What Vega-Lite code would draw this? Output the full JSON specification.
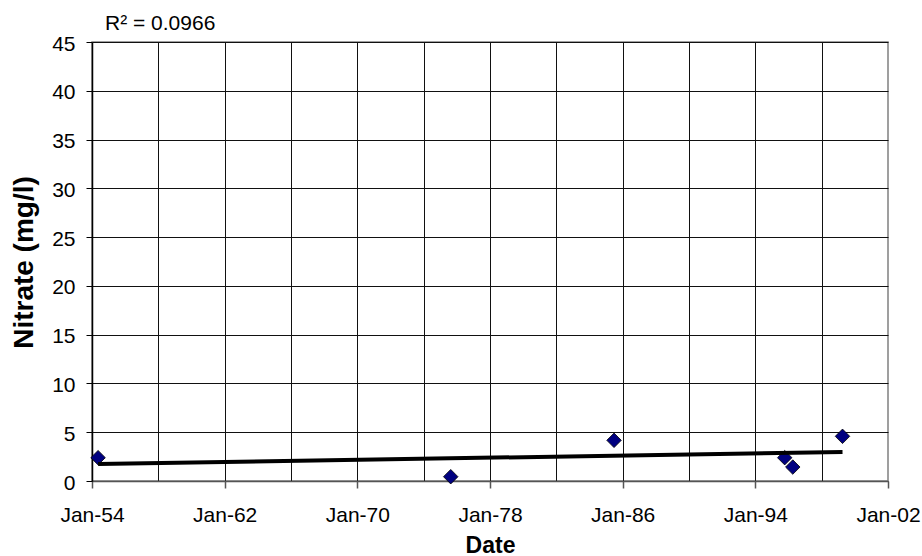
{
  "$schema": "https://vega.github.io/schema/vega-lite/v6.json",
  "width": 796,
  "height": 439,
  "autosize": "none",
  "padding": {"left": 92, "top": 42, "right": 34, "bottom": 75},
  "background": "white",
  "config": {
    "font": "Liberation Sans",
    "view": {"stroke": "#808080", "strokeWidth": 1.5},
    "axis": {"labelFont": "Liberation Sans", "titleFont": "Liberation Sans", "labelColor": "black", "titleColor": "black"}
  },
  "title": {
    "text": "R² = 0.0966",
    "anchor": "start",
    "frame": "group",
    "dx": 13,
    "dy": 30,
    "offset": 12,
    "baseline": "alphabetic",
    "fontSize": 21,
    "fontWeight": "normal",
    "font": "Liberation Sans",
    "color": "black"
  },
  "data": {
    "values": [
      {"date": "1954-05-15T00:00:00", "nitrate": 2.39},
      {"date": "1975-08-20T00:00:00", "nitrate": 0.44},
      {"date": "1985-06-25T00:00:00", "nitrate": 4.17},
      {"date": "1995-10-10T00:00:00", "nitrate": 2.39},
      {"date": "1996-04-05T00:00:00", "nitrate": 1.43},
      {"date": "1999-04-05T00:00:00", "nitrate": 4.58}
    ],
    "format": {"parse": {"date": "date"}}
  },
  "layer": [
    {
      "mark": {"type": "point", "shape": "diamond", "filled": true, "fill": "#000080", "stroke": "#000000", "strokeWidth": 0.8, "size": 210, "opacity": 1},
      "encoding": {
        "x": {
          "field": "date", "type": "temporal",
          "scale": {"domain": [{"year": 1954, "month": 1, "date": 1}, {"year": 2002, "month": 1, "date": 1}], "nice": false},
          "axis": {
            "orient": "bottom",
            "values": [
              {"year": 1958, "month": 1, "date": 1}, {"year": 1962, "month": 1, "date": 1},
              {"year": 1966, "month": 1, "date": 1}, {"year": 1970, "month": 1, "date": 1},
              {"year": 1974, "month": 1, "date": 1}, {"year": 1978, "month": 1, "date": 1},
              {"year": 1982, "month": 1, "date": 1}, {"year": 1986, "month": 1, "date": 1},
              {"year": 1990, "month": 1, "date": 1}, {"year": 1994, "month": 1, "date": 1},
              {"year": 1998, "month": 1, "date": 1}
            ],
            "grid": true, "gridColor": "#111111", "gridWidth": 1, "gridOpacity": 1,
            "labels": false, "ticks": false, "domain": false, "title": null
          }
        },
        "y": {
          "field": "nitrate", "type": "quantitative",
          "scale": {"domain": [0, 45], "nice": false},
          "axis": {
            "values": [0, 5, 10, 15, 20, 25, 30, 35, 40, 45],
            "grid": true, "gridColor": "#111111", "gridWidth": 1, "gridOpacity": 1,
            "domain": true, "domainColor": "#000000", "domainWidth": 1.5,
            "ticks": true, "tickSize": 6, "tickColor": "#000000", "tickWidth": 1,
            "labelFontSize": 21, "labelPadding": 11, "labelOffset": 2,
            "title": "Nitrate (mg/l)", "titleFontSize": 28, "titleFontWeight": "bold",
            "titleX": -68, "titleY": 220, "titleAngle": 270, "titleAlign": "center", "titleBaseline": "middle"
          }
        }
      }
    },
    {
      "transform": [{"regression": "nitrate", "on": "date"}],
      "mark": {"type": "line", "color": "#000000", "strokeWidth": 4},
      "encoding": {
        "x": {
          "field": "date", "type": "temporal",
          "axis": {
            "orient": "bottom",
            "values": [
              {"year": 1954, "month": 1, "date": 1}, {"year": 1962, "month": 1, "date": 1},
              {"year": 1970, "month": 1, "date": 1}, {"year": 1978, "month": 1, "date": 1},
              {"year": 1986, "month": 1, "date": 1}, {"year": 1994, "month": 1, "date": 1},
              {"year": 2002, "month": 1, "date": 1}
            ],
            "format": "%b-%y",
            "grid": false,
            "domain": true, "domainColor": "#555555", "domainWidth": 1.5,
            "ticks": true, "tickSize": 7, "tickColor": "#555555", "tickWidth": 1.5,
            "labelFontSize": 21, "labelPadding": 16, "labelFlush": false,
            "title": "Date", "titleFontSize": 23, "titleFontWeight": "bold",
            "titleY": 71, "titleBaseline": "alphabetic"
          }
        },
        "y": {"field": "nitrate", "type": "quantitative"}
      }
    }
  ],
  "resolve": {"axis": {"x": "independent"}}
}
